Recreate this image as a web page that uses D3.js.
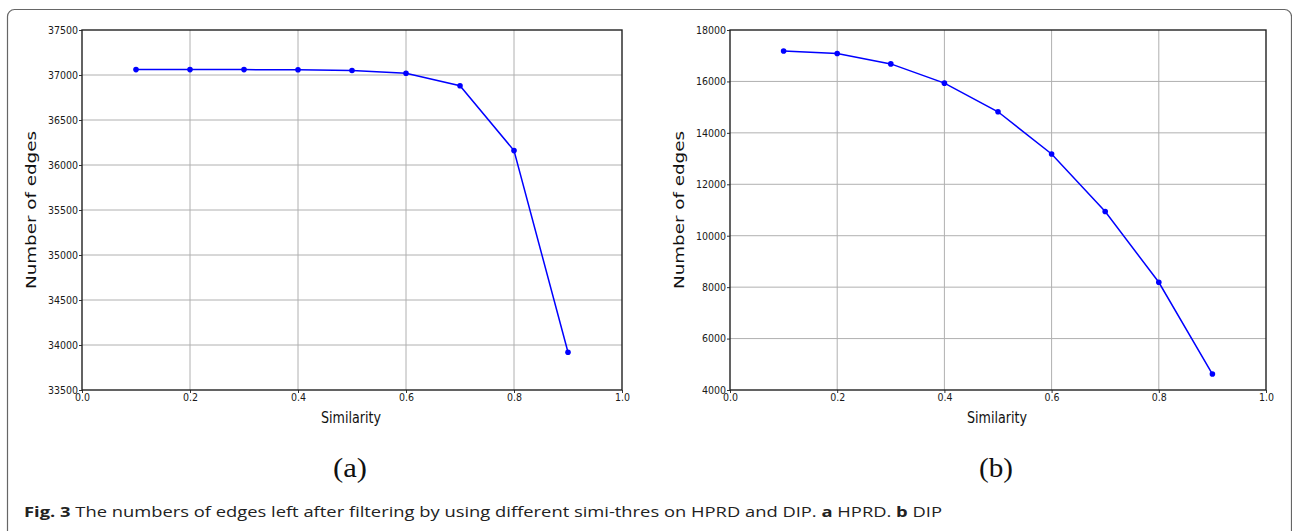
<!DOCTYPE html>
<html>
<head>
<meta charset="utf-8">
<script src="https://cdn.jsdelivr.net/npm/d3@7"></script>
<style>
  body { margin: 0; background: #fff; }
  svg { display: block; }
  .tick text { font-family: "DejaVu Sans Condensed", "DejaVu Sans", sans-serif; font-stretch: condensed; font-size: 10.5px; fill: #1a1a1a; }
</style>
</head>
<body>
<div id="fig"></div>
<script>
// similarity thresholds (x)
const simiThres = [0.1, 0.2, 0.3, 0.4, 0.5, 0.6, 0.7, 0.8, 0.9];
// (a) HPRD
const hprdEdges = [37060, 37060, 37060, 37058, 37050, 37019, 36881, 36160, 33919];
// (b) DIP
const dipEdges = [17186, 17084, 16682, 15933, 14820, 13180, 10942, 8189, 4620];

const xTicks = [0.0, 0.2, 0.4, 0.6, 0.8, 1.0];
const hprdTicks = [33500, 34000, 34500, 35000, 35500, 36000, 36500, 37000, 37500];
const dipTicks = [4000, 6000, 8000, 10000, 12000, 14000, 16000, 18000];

const panelLabels = ["(a)", "(b)"];

const W = 1292, H = 531;
const svg = d3.select("#fig").append("svg")
  .attr("width", W)
  .attr("height", H);

// figure frame
svg.append("rect")
  .attr("x", 7.5).attr("y", 9.5)
  .attr("width", 1284).attr("height", 600)
  .attr("rx", 7)
  .attr("fill", "none")
  .attr("stroke", "#666")
  .attr("stroke-width", 1.2);

function drawPanel(opt) {
  const { left, right, top, bottom, values, yTicks, label } = opt;
  const x = d3.scaleLinear().domain([0, 1]).range([left, right]);
  const y = d3.scaleLinear().domain(d3.extent(yTicks)).range([bottom, top]);

  const g = svg.append("g");

  // 网格
  g.append("g")
    .selectAll("line.vgrid")
    .data(xTicks.slice(1, -1))
    .enter().append("line")
    .attr("x1", d => x(d)).attr("x2", d => x(d))
    .attr("y1", top).attr("y2", bottom)
    .attr("stroke", "#b0b0b0").attr("stroke-width", 1);
  g.append("g")
    .selectAll("line.hgrid")
    .data(yTicks.slice(1, -1))
    .enter().append("line")
    .attr("x1", left).attr("x2", right)
    .attr("y1", d => y(d)).attr("y2", d => y(d))
    .attr("stroke", "#b0b0b0").attr("stroke-width", 1);

  // axes
  const xa = g.append("g")
    .attr("transform", `translate(0,${bottom})`)
    .call(d3.axisBottom(x).tickValues(xTicks).tickFormat(d3.format(".1f")).tickSize(3).tickPadding(1));
  const ya = g.append("g")
    .attr("transform", `translate(${left},0)`)
    .call(d3.axisLeft(y).tickValues(yTicks).tickFormat(d3.format("d")).tickSize(3).tickPadding(1));
  [xa, ya].forEach(a => {
    a.select(".domain").remove();
    a.selectAll(".tick line").attr("stroke", "#333");
  });

  // spines
  g.append("rect")
    .attr("x", left).attr("y", top)
    .attr("width", right - left).attr("height", bottom - top)
    .attr("fill", "none")
    .attr("stroke", "#222")
    .attr("stroke-width", 1.4);

  // line + points
  const line = d3.line()
    .x((d, i) => x(simiThres[i]))
    .y(d => y(d));
  g.append("path")
    .datum(values)
    .attr("d", line)
    .attr("fill", "none")
    .attr("stroke", "#0000ff")
    .attr("stroke-width", 1.5);
  g.selectAll("circle")
    .data(values)
    .enter().append("circle")
    .attr("cx", (d, i) => x(simiThres[i]))
    .attr("cy", d => y(d))
    .attr("r", 2.8)
    .attr("fill", "#0000ff");

  // axis titles
  const cx = (left + right) / 2;
  g.append("text")
    .attr("x", cx - 1).attr("y", 423)
    .attr("text-anchor", "middle")
    .attr("font-family", "DejaVu Sans Condensed, DejaVu Sans, sans-serif")
    .attr("font-stretch", "condensed")
    .attr("font-size", 16)
    .attr("fill", "#111")
    .attr("textLength", 60)
    .attr("lengthAdjust", "spacingAndGlyphs")
    .text("Similarity");

  g.append("text")
    .attr("transform", `translate(${left - 46},${(top + bottom) / 2}) rotate(-90)`)
    .attr("text-anchor", "middle")
    .attr("font-family", "DejaVu Sans, sans-serif")
    .attr("font-size", 14)
    .attr("fill", "#111")
    .attr("textLength", 158)
    .attr("lengthAdjust", "spacingAndGlyphs")
    .text("Number of edges");

  g.append("text")
    .attr("x", cx - 2).attr("y", 477)
    .attr("text-anchor", "middle")
    .attr("font-family", "Liberation Serif, serif")
    .attr("font-size", 28)
    .attr("fill", "#111")
    .attr("textLength", 34)
    .attr("lengthAdjust", "spacingAndGlyphs")
    .text(label);
}

drawPanel({ left: 82, right: 622, top: 30, bottom: 390, values: hprdEdges, yTicks: hprdTicks, label: panelLabels[0] });
drawPanel({ left: 730, right: 1266, top: 30, bottom: 390, values: dipEdges, yTicks: dipTicks, label: panelLabels[1] });

// caption
const cap = svg.append("text")
  .attr("x", 24).attr("y", 517)
  .attr("font-family", "Open Sans, sans-serif")
  .attr("font-size", 14)
  .attr("fill", "#222")
  .attr("textLength", 918)
  .attr("lengthAdjust", "spacingAndGlyphs");
cap.append("tspan").attr("font-weight", "bold").text("Fig. 3");
cap.append("tspan").text(" The numbers of edges left after filtering by using different simi-thres on HPRD and DIP. ");
cap.append("tspan").attr("font-weight", "bold").text("a");
cap.append("tspan").text(" HPRD. ");
cap.append("tspan").attr("font-weight", "bold").text("b");
cap.append("tspan").text(" DIP");
</script>
</body>
</html>
